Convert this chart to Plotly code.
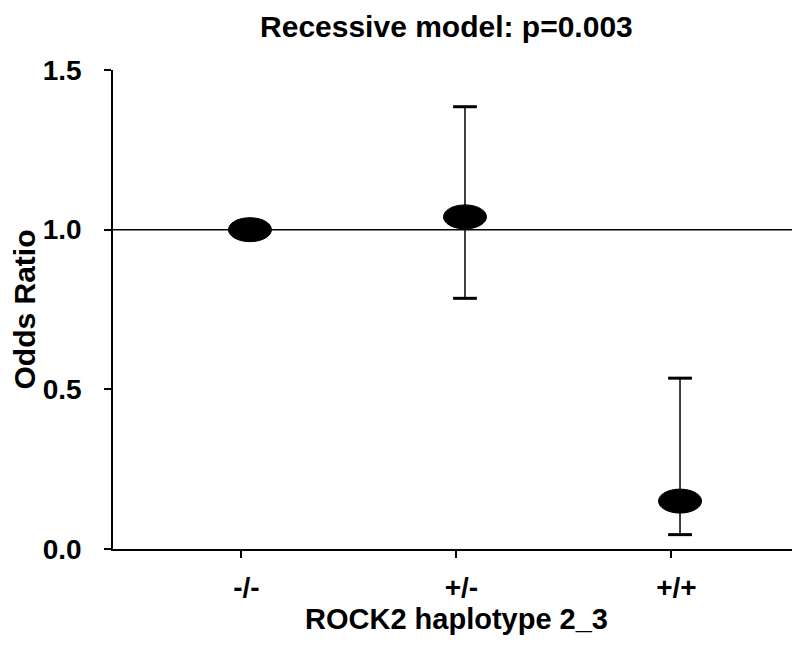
import numpy as np
import plotly.graph_objects as go

# data
genotypes = ['-/-', '+/-', '+/+']
odds_ratio = [1.0, 1.04, 0.15]
ci_low = [1.0, 0.785, 0.045]
ci_high = [1.0, 1.385, 0.535]

x_pos = np.arange(1, len(genotypes) + 1)
or_arr = np.array(odds_ratio)
err_plus = np.array(ci_high) - or_arr
err_minus = or_arr - np.array(ci_low)
has_ci = err_plus > 0

font = 'Liberation Sans, Arial, sans-serif'

fig = go.Figure()

# error bar stems
fig.add_trace(go.Scatter(
    x=x_pos, y=or_arr, mode='markers', marker=dict(size=1, color='rgba(0,0,0,0)'),
    error_y=dict(type='data', array=err_plus, arrayminus=err_minus,
                 color='black', thickness=1.5, width=0),
    showlegend=False, hoverinfo='skip'))

# caps
cap_x = np.concatenate([x_pos[has_ci], x_pos[has_ci]])
cap_y = np.concatenate([np.array(ci_high)[has_ci], np.array(ci_low)[has_ci]])
fig.add_trace(go.Scatter(
    x=cap_x, y=cap_y, mode='markers',
    marker=dict(symbol='line-ew', size=17, line=dict(width=3, color='black')),
    showlegend=False, hoverinfo='skip'))

# reference line at OR = 1
fig.add_shape(type='line', xref='paper', x0=0, x1=1, yref='y', y0=1, y1=1,
              line=dict(color='black', width=1.5), layer='below')

# ellipse markers
for xv, yv in zip(x_pos, odds_ratio):
    fig.add_shape(type='circle', xref='x', yref='y',
                  xsizemode='pixel', ysizemode='pixel',
                  xanchor=xv, yanchor=yv,
                  x0=-21.5, x1=21.5, y0=-12, y1=12,
                  fillcolor='black', line=dict(color='black', width=1))

fig.update_layout(
    width=800, height=648,
    margin=dict(l=105, r=8, t=62, b=107, autoexpand=False),
    plot_bgcolor='white', paper_bgcolor='white',
    font=dict(family=font, color='black'),
    title=dict(text='<b>Recessive model: p=0.003</b>', x=0.548, xanchor='center',
               y=0.972, yanchor='middle', font=dict(size=30)),
)

fig.update_xaxes(
    range=[0.363, 3.558], tickmode='array', tickvals=x_pos - 0.04,
    ticktext=['<b>%s</b>' % g for g in genotypes],
    ticks='outside', ticklen=7, tickwidth=1.5, tickcolor='black',
    ticklabelshift=5, ticklabelstandoff=6, automargin=False,
    showline=True, linecolor='black', linewidth=1.5, showgrid=False, zeroline=False,
    tickfont=dict(size=28),
    title=dict(text='<b>ROCK2 haplotype 2_3</b>', font=dict(size=29), standoff=4))

fig.update_yaxes(
    range=[0, 1.5], tickvals=[0, 0.5, 1.0, 1.5], tickformat='.1f',
    ticks='outside', ticklen=7, tickwidth=1.5, tickcolor='black',
    ticklabelstandoff=17, automargin=False,
    showline=True, linecolor='black', linewidth=1.5, showgrid=False, zeroline=False,
    tickfont=dict(size=28, weight='bold'),
    title=dict(text='<b>Odds Ratio</b>', font=dict(size=30), standoff=4))

fig.write_html('out.html')
